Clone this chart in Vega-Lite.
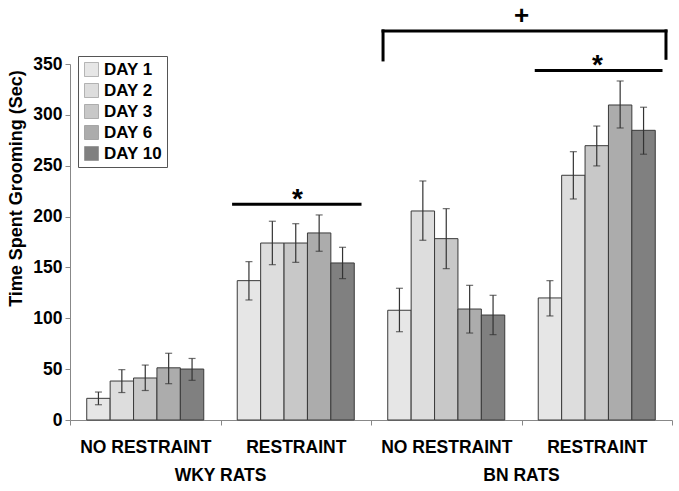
{
  "$schema": "https://vega.github.io/schema/vega-lite/v6.json",
  "width": 602,
  "height": 356,
  "autosize": {"type": "none"},
  "padding": {"left": 70, "top": 64, "right": 7, "bottom": 71},
  "background": "white",
  "config": {"font": "Liberation Sans", "view": {"stroke": null}},
  "datasets": {
    "bars": [
      {"group": "WKY|NO RESTRAINT", "day": "DAY 1", "value": 21.3, "lo": 15, "hi": 27.5},
      {"group": "WKY|NO RESTRAINT", "day": "DAY 2", "value": 38.3, "lo": 27, "hi": 49.5},
      {"group": "WKY|NO RESTRAINT", "day": "DAY 3", "value": 41.3, "lo": 29, "hi": 54},
      {"group": "WKY|NO RESTRAINT", "day": "DAY 6", "value": 51.3, "lo": 35.7, "hi": 65.6},
      {"group": "WKY|NO RESTRAINT", "day": "DAY 10", "value": 50.1, "lo": 39, "hi": 60.5},
      {"group": "WKY|RESTRAINT", "day": "DAY 1", "value": 137, "lo": 118, "hi": 155.7},
      {"group": "WKY|RESTRAINT", "day": "DAY 2", "value": 174, "lo": 152.7, "hi": 195.4},
      {"group": "WKY|RESTRAINT", "day": "DAY 3", "value": 174, "lo": 155, "hi": 193},
      {"group": "WKY|RESTRAINT", "day": "DAY 6", "value": 183.9, "lo": 165.9, "hi": 201.6},
      {"group": "WKY|RESTRAINT", "day": "DAY 10", "value": 154.4, "lo": 139, "hi": 169.8},
      {"group": "BN|NO RESTRAINT", "day": "DAY 1", "value": 107.9, "lo": 86.8, "hi": 129.5},
      {"group": "BN|NO RESTRAINT", "day": "DAY 2", "value": 205.5, "lo": 176.7, "hi": 235},
      {"group": "BN|NO RESTRAINT", "day": "DAY 3", "value": 178.3, "lo": 148.8, "hi": 207.8},
      {"group": "BN|NO RESTRAINT", "day": "DAY 6", "value": 109.1, "lo": 85.5, "hi": 132.4},
      {"group": "BN|NO RESTRAINT", "day": "DAY 10", "value": 103.2, "lo": 83.9, "hi": 122.6},
      {"group": "BN|RESTRAINT", "day": "DAY 1", "value": 120, "lo": 102.3, "hi": 137},
      {"group": "BN|RESTRAINT", "day": "DAY 2", "value": 240.6, "lo": 217.3, "hi": 263.8},
      {"group": "BN|RESTRAINT", "day": "DAY 3", "value": 269.7, "lo": 249.8, "hi": 289},
      {"group": "BN|RESTRAINT", "day": "DAY 6", "value": 309.7, "lo": 287.1, "hi": 333.3},
      {"group": "BN|RESTRAINT", "day": "DAY 10", "value": 284.8, "lo": 261.3, "hi": 307.5}
    ],
    "segments": [
      {"x1": 2.08, "x2": 3.96, "y1": 382.5, "y2": 382.5},
      {"x1": 2.08, "x2": 2.08, "y1": 382.5, "y2": 354},
      {"x1": 3.96, "x2": 3.96, "y1": 382.5, "y2": 355.6},
      {"x1": 1.087, "x2": 1.927, "y1": 212, "y2": 212},
      {"x1": 3.098, "x2": 3.927, "y1": 343.5, "y2": 343.5}
    ],
    "grouplabels": [
      {"label": "WKY RATS", "pos": 1.0, "ypos": -55},
      {"label": "BN RATS", "pos": 3.0, "ypos": -55}
    ],
    "stars": [
      {"label": "*", "pos": 1.511, "ypos": 208.5},
      {"label": "*", "pos": 3.505, "ypos": 340}
    ],
    "plus": [
      {"label": "+", "pos": 3.0, "ypos": 389}
    ]
  },
  "layer": [
    {
      "data": {"name": "bars"},
      "mark": {"type": "bar", "stroke": "#3a3a3a", "strokeWidth": 1},
      "encoding": {
        "x": {
          "field": "group", "type": "nominal",
          "sort": ["WKY|NO RESTRAINT", "WKY|RESTRAINT", "BN|NO RESTRAINT", "BN|RESTRAINT"],
          "scale": {"paddingInner": 0, "paddingOuter": 0},
          "axis": {
            "title": null, "labelExpr": "split(datum.value,'|')[1]", "tickBand": "extent",
            "labelAngle": 0, "labelFontSize": 17.5, "labelFontWeight": "bold", "labelColor": "black",
            "labelPadding": 13, "tickSize": 5, "domainColor": "#888", "tickColor": "#888", "grid": false
          }
        },
        "xOffset": {
          "field": "day", "type": "nominal",
          "sort": ["DAY 1", "DAY 2", "DAY 3", "DAY 6", "DAY 10"],
          "scale": {"paddingInner": 0, "paddingOuter": 0.715}
        },
        "y": {
          "field": "value", "type": "quantitative",
          "scale": {"domain": [0, 350], "nice": false},
          "axis": {
            "title": "Time Spent Grooming (Sec)", "values": [0, 50, 100, 150, 200, 250, 300, 350],
            "orient": "left",
            "grid": false, "labelFontSize": 17.5, "labelFontWeight": "bold", "labelColor": "black",
            "labelPadding": 3, "tickSize": 5, "domainColor": "#888", "tickColor": "#888",
            "titleFontSize": 18, "titleFontWeight": "bold", "titleColor": "black",
            "titleX": -54, "titleY": 124, "titleAngle": -90, "titleAlign": "center", "titleBaseline": "middle"
          }
        },
        "color": {
          "field": "day", "type": "nominal",
          "sort": ["DAY 1", "DAY 2", "DAY 3", "DAY 6", "DAY 10"],
          "scale": {
            "domain": ["DAY 1", "DAY 2", "DAY 3", "DAY 6", "DAY 10"],
            "range": ["#e6e6e6", "#dddddd", "#c8c8c8", "#acacac", "#808080"]
          },
          "legend": {
            "title": null, "orient": "none", "legendX": 8, "legendY": -8,
            "strokeColor": "#555", "padding": 5, "symbolType": "square", "symbolSize": 196,
            "symbolStrokeColor": "#777", "symbolStrokeWidth": 0.5,
            "labelFontSize": 17, "labelFontWeight": "bold", "labelColor": "black",
            "labelOffset": 4, "rowPadding": 3, "fillColor": "white"
          }
        }
      }
    },
    {
      "data": {"name": "bars"},
      "mark": {"type": "rule", "color": "#333", "strokeWidth": 1.2},
      "encoding": {
        "x": {"field": "group", "type": "nominal", "sort": ["WKY|NO RESTRAINT", "WKY|RESTRAINT", "BN|NO RESTRAINT", "BN|RESTRAINT"], "scale": {"paddingInner": 0, "paddingOuter": 0}, "axis": null},
        "xOffset": {"field": "day", "type": "nominal", "sort": ["DAY 1", "DAY 2", "DAY 3", "DAY 6", "DAY 10"], "scale": {"paddingInner": 0, "paddingOuter": 0.715}},
        "y": {"field": "lo", "type": "quantitative", "scale": {"domain": [0, 350], "nice": false}, "axis": null},
        "y2": {"field": "hi"}
      }
    },
    {
      "data": {"name": "bars"},
      "mark": {"type": "tick", "color": "#333", "thickness": 1.2, "size": 7},
      "encoding": {
        "x": {"field": "group", "type": "nominal", "sort": ["WKY|NO RESTRAINT", "WKY|RESTRAINT", "BN|NO RESTRAINT", "BN|RESTRAINT"], "scale": {"paddingInner": 0, "paddingOuter": 0}, "axis": null},
        "xOffset": {"field": "day", "type": "nominal", "sort": ["DAY 1", "DAY 2", "DAY 3", "DAY 6", "DAY 10"], "scale": {"paddingInner": 0, "paddingOuter": 0.715}},
        "y": {"field": "lo", "type": "quantitative", "scale": {"domain": [0, 350], "nice": false}, "axis": null}
      }
    },
    {
      "data": {"name": "bars"},
      "mark": {"type": "tick", "color": "#333", "thickness": 1.2, "size": 7},
      "encoding": {
        "x": {"field": "group", "type": "nominal", "sort": ["WKY|NO RESTRAINT", "WKY|RESTRAINT", "BN|NO RESTRAINT", "BN|RESTRAINT"], "scale": {"paddingInner": 0, "paddingOuter": 0}, "axis": null},
        "xOffset": {"field": "day", "type": "nominal", "sort": ["DAY 1", "DAY 2", "DAY 3", "DAY 6", "DAY 10"], "scale": {"paddingInner": 0, "paddingOuter": 0.715}},
        "y": {"field": "hi", "type": "quantitative", "scale": {"domain": [0, 350], "nice": false}, "axis": null}
      }
    },
    {
      "data": {"name": "segments"},
      "mark": {"type": "rule", "color": "black", "strokeWidth": 3, "strokeCap": "square"},
      "encoding": {
        "x": {"field": "x1", "type": "quantitative", "scale": {"domain": [0, 4], "nice": false, "zero": false}, "axis": null},
        "x2": {"field": "x2"},
        "y": {"field": "y1", "type": "quantitative", "scale": {"domain": [0, 350], "nice": false}, "axis": null},
        "y2": {"field": "y2"}
      }
    },
    {
      "data": {"name": "grouplabels"},
      "mark": {"type": "text", "fontSize": 17.5, "fontWeight": "bold", "baseline": "middle", "align": "center", "color": "black"},
      "encoding": {
        "x": {"field": "pos", "type": "quantitative", "scale": {"domain": [0, 4], "nice": false, "zero": false}, "axis": null},
        "y": {"field": "ypos", "type": "quantitative", "scale": {"domain": [0, 350], "nice": false}, "axis": null},
        "text": {"field": "label"}
      }
    },
    {
      "data": {"name": "stars"},
      "mark": {"type": "text", "fontSize": 28, "fontWeight": "bold", "baseline": "alphabetic", "align": "center", "color": "black"},
      "encoding": {
        "x": {"field": "pos", "type": "quantitative", "scale": {"domain": [0, 4], "nice": false, "zero": false}, "axis": null},
        "y": {"field": "ypos", "type": "quantitative", "scale": {"domain": [0, 350], "nice": false}, "axis": null},
        "text": {"field": "label"}
      }
    },
    {
      "data": {"name": "plus"},
      "mark": {"type": "text", "fontSize": 26, "fontWeight": "bold", "baseline": "alphabetic", "align": "center", "color": "black"},
      "encoding": {
        "x": {"field": "pos", "type": "quantitative", "scale": {"domain": [0, 4], "nice": false, "zero": false}, "axis": null},
        "y": {"field": "ypos", "type": "quantitative", "scale": {"domain": [0, 350], "nice": false}, "axis": null},
        "text": {"field": "label"}
      }
    }
  ],
  "resolve": {"scale": {"x": "independent", "xOffset": "shared"}, "axis": {"x": "independent", "y": "independent"}}
}
